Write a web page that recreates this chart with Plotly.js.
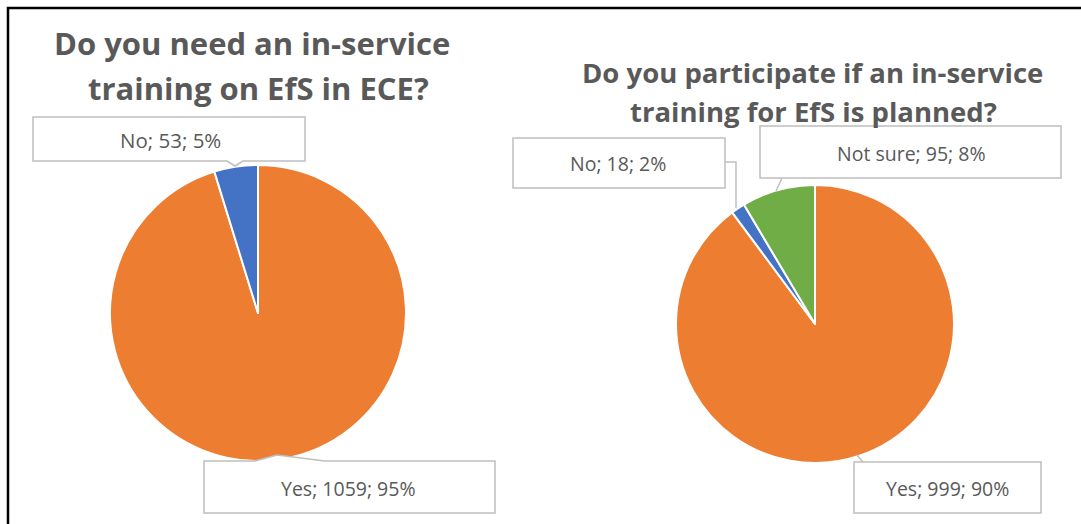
<!DOCTYPE html>
<html>
<head>
<meta charset="utf-8">
<script src="https://cdn.plot.ly/plotly-3.0.1.min.js"></script>
<style>html,body{margin:0;padding:0;background:#fff;}#chart{width:1081px;height:524px;}</style>
</head>
<body>
<div id="chart"></div>
<script>
// Data
const needLabels = ["Yes", "No"];
const needValues = [1059, 53];
const needPct = [95, 5];
const needColors = ["#ED7D31", "#4472C4"];

const partLabels = ["Yes", "No", "Not sure"];
const partValues = [999, 18, 95];
const partPct = [90, 2, 8];
const partColors = ["#ED7D31", "#4472C4", "#70AD47"];

const titleLeft = ["Do you need an in-service", "training on EfS in ECE?"];
const titleRight = ["Do you participate if an in-service", "training for EfS is planned?"];

const W = 1081, H = 524;
const px = x => x / W;
const py = y => 1 - y / H;
function path(pts, close) {
  return pts.map((p, i) => (i ? "L" : "M") + px(p[0]).toFixed(5) + "," + py(p[1]).toFixed(5)).join(" ") + (close ? " Z" : "");
}
function mkLabel(labels, values, pct) {
  return labels.map((l, i) => l + "; " + values[i] + "; " + pct[i] + "%");
}
const needText = mkLabel(needLabels, needValues, needPct);
const partText = mkLabel(partLabels, partValues, partPct);

const traces = [
  {
    type: "pie", labels: needLabels, values: needValues, sort: false,
    direction: "clockwise", rotation: 0, textinfo: "none", hoverinfo: "none",
    marker: {colors: needColors, line: {color: "#ffffff", width: 2}},
    domain: {x: [px(110), px(406)], y: [py(461), py(165)]}, showlegend: false
  },
  {
    type: "pie", labels: partLabels, values: partValues, sort: false,
    direction: "clockwise", rotation: 0, textinfo: "none", hoverinfo: "none",
    marker: {colors: partColors, line: {color: "#ffffff", width: 2}},
    domain: {x: [px(676), px(954)], y: [py(463), py(185)]}, showlegend: false
  }
];

const gray = "#BFBFBF";
const shapes = [
  // frame
  {type: "path", path: path([[8, 530], [8, 8], [1090, 8]]), xref: "paper", yref: "paper", line: {color: "#000", width: 2.5}},
  // left No callout
  {type: "path", path: path([[33,117],[305,117],[305,161],[243,161],[235,166],[227,161],[33,161]], true), xref: "paper", yref: "paper", fillcolor: "#fff", line: {color: gray, width: 1.5}},
  // left Yes callout
  {type: "path", path: path([[204,461],[255,461],[277,455],[325,461],[495,461],[495,513],[204,513]], true), xref: "paper", yref: "paper", fillcolor: "#fff", line: {color: gray, width: 1.5}},
  // right No
  {type: "rect", x0: px(513), x1: px(725), y0: py(188), y1: py(138), xref: "paper", yref: "paper", fillcolor: "#fff", line: {color: gray, width: 1.5}},
  {type: "path", path: path([[725,162],[736,162],[736,208]]), xref: "paper", yref: "paper", line: {color: gray, width: 1.5}},
  // right Not sure
  {type: "rect", x0: px(760), x1: px(1061), y0: py(178), y1: py(126), xref: "paper", yref: "paper", fillcolor: "#fff", line: {color: gray, width: 1.5}},
  {type: "path", path: path([[782,178],[776,191]]), xref: "paper", yref: "paper", line: {color: gray, width: 1.5}},
  // right Yes
  {type: "rect", x0: px(854), x1: px(1041), y0: py(513), y1: py(462), xref: "paper", yref: "paper", fillcolor: "#fff", line: {color: gray, width: 1.5}},
  {type: "path", path: path([[863,462],[857,455]]), xref: "paper", yref: "paper", line: {color: gray, width: 1.5}}
];

const lblFont = {family: "Open Sans, sans-serif", size: 19.5, color: "#595959"};
const lblFontL = {family: "Open Sans, sans-serif", size: 20.5, color: "#595959"};
const ttlFontL = {family: "Open Sans, sans-serif", size: 31, color: "#595959"};
const ttlFontR = {family: "Open Sans, sans-serif", size: 27.5, color: "#595959"};
function ann(text, x, y, font) {
  return {text: text, x: px(x), y: py(y), xref: "paper", yref: "paper", showarrow: false, xanchor: "center", yanchor: "middle", font: font};
}
const annotations = [
  ann("<b>" + titleLeft[0] + "</b>", 252, 43, ttlFontL),
  ann("<b>" + titleLeft[1] + "</b>", 258, 88, ttlFontL),
  ann("<b>" + titleRight[0] + "</b>", 812, 73, ttlFontR),
  ann("<b>" + titleRight[1] + "</b>", 813, 111, ttlFontR),
  ann(needText[1], 170, 140, lblFontL),
  ann(needText[0], 348, 488, lblFont),
  ann(partText[1], 618, 164, lblFont),
  ann(partText[2], 911, 153, lblFont),
  ann(partText[0], 947, 488, lblFont)
];

const layout = {
  width: W, height: H,
  margin: {l: 0, r: 0, t: 0, b: 0},
  paper_bgcolor: "#fff", plot_bgcolor: "#fff",
  showlegend: false,
  shapes: shapes, annotations: annotations
};
Plotly.newPlot("chart", traces, layout, {displayModeBar: false, staticPlot: true});
</script>
</body>
</html>
